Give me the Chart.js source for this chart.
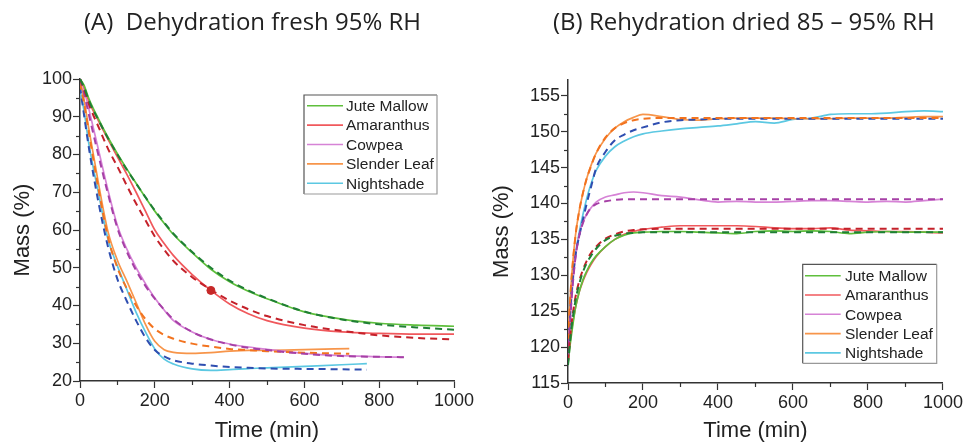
<!DOCTYPE html>
<html><head><meta charset="utf-8">
<script src="https://cdn.jsdelivr.net/npm/chart.js@4.4.0/dist/chart.umd.min.js"></script>
<style>
html,body{margin:0;padding:0;background:#fff;}
#wrap{position:relative;width:965px;height:444px;overflow:hidden;background:#fff;}
canvas{position:absolute;top:0;}
.ttl{position:absolute;top:4px;font-family:"Open Sans",sans-serif;font-size:24px;color:#222;white-space:pre;}
</style></head><body>
<div id="wrap">
<canvas id="cA" width="480" height="444" style="left:0"></canvas>
<canvas id="cB" width="485" height="444" style="left:480px"></canvas>
<div class="ttl" style="left:84px">(A)  Dehydration fresh 95% RH</div>
<div class="ttl" style="left:553px">(B) Rehydration dried 85 – 95% RH</div>
</div>
<script>
// ---------- categories / colours ----------
const species = ['Jute Mallow','Amaranthus','Cowpea','Slender Leaf','Nightshade'];
const colorsSolid = ['#5fbf3c','#f0585c','#d683d6','#f7954a','#5cc8e2'];
const colorsFit   = ['#1f7f35','#c4212a','#a640a6','#f2731f','#2f4eb0'];

// ---------- (A) dehydration: time (min) ----------
const timeA        = [0,10,25,50,75,100,125,150,175,200,225,250,300,350,400,450,500,600,700,800,900,1000];
const timeA_cowpea = [0,10,25,50,75,100,125,150,175,200,225,250,300,350,400,450,500,600,700,800,866];
const timeA_slender= [0,10,25,50,75,100,125,150,175,200,225,250,300,350,400,450,500,600,720];
const timeA_night  = [0,10,25,50,75,100,125,150,175,200,225,250,300,350,400,450,500,600,700,767];
// mass (%) measured / fitted
const juteA      = [100,98.5,94.5,89.3,84.5,80.2,76.2,72.4,68.6,65,61.8,58.8,54,49.6,46.3,43.8,41.8,38.3,36.4,35.3,34.8,34.5];
const juteAfit   = [100,98,94,89,84.3,80,76,72.3,68.7,65.2,62,59,54.2,50,46.6,44,41.9,38.4,36.3,35,34.2,33.6];
const amaA       = [100,98,93.8,88.8,84,79.4,74.8,70,65,60,56.4,53.2,48.2,44,40.4,37.8,36,34,33,32.6,32.4,32.4];
const amaAfit    = [100,97.5,93,87.2,81.5,76.8,71.8,67,62.6,58.3,54.8,51.8,47.5,44.2,41.3,39,37.2,34.8,33.3,32.1,31.4,31];
const cowA       = [100,97.5,91.5,81,70.5,61.2,55,50,45.8,42,38.8,36,33,31,29.8,29,28.4,27.3,26.7,26.4,26.3];
const cowAfit    = [100,96.5,90,79.5,69.5,60.5,54.3,49.3,45.2,41.8,38.9,36.3,33,31,29.7,28.8,28.2,27.2,26.6,26.4,26.3];
const slenderA   = [100,95,86,72,59.5,52,46.5,40.8,35,30.5,28.3,27.6,27.3,27.5,27.9,28.1,28.1,28.3,28.6];
const slenderAfit= [99,94,85,70.5,58,50,44.5,40,36.4,33.8,32.2,31.2,29.9,29.1,28.5,28.2,27.9,27.5,27.2];
const nightA     = [97,92,82,69.5,57.5,50.5,44.3,38.2,33,28.5,25.8,24.5,23.2,22.8,23,23.3,23.5,23.9,24.3,24.6];
const nightAfit  = [98,91,81,67,55.5,47,41.2,36,31.5,28.2,26.5,25.5,24.6,24.1,23.7,23.5,23.3,23.2,23.1,23];
const markerA    = [[350,44]];

// ---------- (B) rehydration ----------
const timeB = [0,5,10,20,30,40,50,60,75,100,125,150,175,200,250,300,350,400,450,500,550,600,650,700,750,800,850,900,950,1000];
const juteB      = [117.5,120,122,125.5,127.7,129.4,130.6,131.6,132.7,134,135,135.6,135.9,136,136.1,136.1,136,135.9,135.8,136.1,136.2,136.1,136.2,136.1,135.8,136,136.1,136,136,136];
const juteBfit   = [117.5,120.5,123,126.5,128.8,130.5,131.7,132.6,133.7,134.9,135.5,135.8,135.9,136,136,136,136,136,136,136,136,136,136,136,136,136,136,136,136,136];
const amaB       = [118,120.5,122.5,125.5,127.7,129.2,130.4,131.4,132.6,134,135,135.7,136.1,136.4,136.7,136.9,136.9,136.9,136.9,136.8,136.6,136.5,136.5,136.6,136.3,136.2,136.1,136.1,136,135.9];
const amaBfit    = [118,121,123.5,127,129.2,130.8,132,133,134,135.1,135.7,136.1,136.3,136.4,136.5,136.5,136.5,136.5,136.5,136.5,136.5,136.5,136.5,136.5,136.5,136.5,136.5,136.5,136.5,136.5];
const cowB       = [118.5,123,127,132.5,135.7,137.4,138.5,139.3,140.2,140.9,141.2,141.5,141.6,141.5,141.1,140.9,140.5,140.2,140.3,140.2,140.2,140.3,140.4,140.4,140.3,140.2,140.3,140.2,140.4,140.6];
const cowBfit    = [118.5,123,127,132.5,135.5,137.3,138.5,139.3,139.9,140.3,140.5,140.6,140.6,140.6,140.6,140.6,140.6,140.6,140.6,140.6,140.6,140.6,140.6,140.6,140.6,140.6,140.6,140.6,140.6,140.6];
const slenderB   = [121,126,130,135.6,139,141.5,143.5,145.1,147,149.1,150.5,151.4,152,152.4,152.1,151.7,151.6,151.8,151.9,151.9,151.9,151.8,151.8,151.8,151.9,151.9,151.9,152,152.1,152.1];
const slenderBfit= [121,126,130,135.5,139,141.5,143.5,145,147,149.2,150.5,151.2,151.6,151.8,151.9,151.9,151.9,151.9,151.9,151.9,151.9,151.9,151.9,151.9,151.9,151.9,151.9,151.9,151.9,151.9];
const nightB     = [119,124,128.5,133,136,138.5,140.7,142.5,144.6,146.6,147.9,148.7,149.3,149.7,150.1,150.4,150.6,150.8,151.1,151.4,151.2,151.7,151.9,152.4,152.5,152.5,152.6,152.8,152.9,152.8];
const nightBfit  = [119,124,128,132.8,135.5,137.8,140,142,144.9,147.2,148.8,149.6,150.2,150.6,151.3,151.6,151.7,151.8,151.8,151.8,151.8,151.8,151.8,151.8,151.8,151.8,151.8,151.8,151.8,151.8];

// ---------- axis ticks ----------
const xTicksMajor = 200, xStep = 100;
const yA = {min:20, max:100, step:5, major:10};
const yB = {min:115, max:157.2, step:2.5, major:5};

// ---------- helpers ----------
const pts = (t, v) => t.map((x, i) => ({x, y: v[i]}));
function buildSets(groups) {
  const sets = [];
  groups.forEach((g, i) => {
    sets.push({label: species[i], data: pts(g[0], g[1]), borderColor: colorsSolid[i], borderWidth: 1.7,
      pointRadius: 0, cubicInterpolationMode: 'monotone', fill: false, inLegend: true, order: 2});
  });
  groups.forEach((g, i) => {
    sets.push({label: species[i] + ' fit', data: pts(g[0], g[2]), borderColor: colorsFit[i], borderWidth: 2,
      borderDash: [7, 5], pointRadius: 0, cubicInterpolationMode: 'monotone', fill: false, order: 1});
  });
  return sets;
}

const minorTicks = {
  id: 'minorTicks',
  afterDraw(chart) {
    const ctx = chart.ctx;
    ctx.save();
    ctx.strokeStyle = '#333'; ctx.lineWidth = 1.2;
    const xs = chart.scales.x, ys = chart.scales.y;
    xs.ticks.forEach((t, i) => {
      if (t.label !== '') return;
      const p = Math.round(xs.getPixelForTick(i)) + 0.5;
      ctx.beginPath(); ctx.moveTo(p, xs.top); ctx.lineTo(p, xs.top + 4); ctx.stroke();
    });
    ys.ticks.forEach((t, i) => {
      if (t.label !== '') return;
      const p = Math.round(ys.getPixelForTick(i)) + 0.5;
      ctx.beginPath(); ctx.moveTo(ys.right, p); ctx.lineTo(ys.right - 4, p); ctx.stroke();
    });
    ctx.restore();
  }
};

const boxLegend = {
  id: 'boxLegend',
  afterDatasetsDraw(chart, args, o) {
    const ctx = chart.ctx;
    const items = chart.data.datasets.filter(d => d.inLegend);
    ctx.save();
    ctx.fillStyle = '#fff';
    ctx.fillRect(o.x, o.y, o.w, o.h);
    ctx.lineWidth = 1.2;
    ctx.strokeStyle = '#555';
    ctx.beginPath(); ctx.moveTo(o.x, o.y + o.h); ctx.lineTo(o.x, o.y); ctx.lineTo(o.x + o.w, o.y); ctx.stroke();
    ctx.strokeStyle = '#999';
    ctx.beginPath(); ctx.moveTo(o.x + o.w, o.y); ctx.lineTo(o.x + o.w, o.y + o.h); ctx.lineTo(o.x, o.y + o.h); ctx.stroke();
    ctx.font = o.font; ctx.textBaseline = 'middle'; ctx.textAlign = 'left';
    items.forEach((d, i) => {
      const yy = o.y + o.first + i * o.row;
      ctx.strokeStyle = d.borderColor; ctx.lineWidth = 1.6;
      ctx.beginPath(); ctx.moveTo(o.x + o.s0, yy); ctx.lineTo(o.x + o.s1, yy); ctx.stroke();
      ctx.fillStyle = '#222';
      ctx.fillText(d.label, o.x + o.tx, yy + 1);
    });
    ctx.restore();
  }
};

function makeOptions(yCfg, pad, yWidth, xHeight, yTitlePad, legend) {
  const tickFont = {family: '"Liberation Sans", Arial, sans-serif', size: 18};
  const titleFont = {family: '"Liberation Sans", Arial, sans-serif', size: 22};
  return {
    responsive: false, animation: false, events: [],
    layout: {padding: pad},
    plugins: {legend: {display: false}, tooltip: {enabled: false}, boxLegend: legend},
    scales: {
      x: {type: 'linear', min: 0, max: 1000,
        afterFit: s => { s.height = xHeight; },
        ticks: {stepSize: xStep, autoSkip: false, maxRotation: 0, padding: 2, color: '#222', font: tickFont,
          includeBounds: false,
          callback: v => (v % xTicksMajor === 0 ? String(v) : '')},
        grid: {drawOnChartArea: false, drawTicks: true, tickLength: 7, tickWidth: 1.2,
          tickColor: c => (c.tick && c.tick.value % xTicksMajor === 0) ? '#333' : 'rgba(0,0,0,0)'},
        border: {display: true, color: '#333', width: 1.5},
        title: {display: true, text: 'Time (min)', color: '#222', font: titleFont, padding: {top: 0, bottom: 0}}
      },
      y: {type: 'linear', min: yCfg.min, max: yCfg.max,
        afterFit: s => { s.width = yWidth; },
        ticks: {stepSize: yCfg.step, autoSkip: false, padding: 1, color: '#222', font: tickFont, includeBounds: false,
          callback: v => (Math.abs(v % yCfg.major) < 1e-6 ? String(v) : '')},
        grid: {drawOnChartArea: false, drawTicks: true, tickLength: 7, tickWidth: 1.2,
          tickColor: c => (c.tick && Math.abs(c.tick.value % yCfg.major) < 1e-6) ? '#333' : 'rgba(0,0,0,0)'},
        border: {display: true, color: '#333', width: 1.5},
        title: {display: true, text: 'Mass (%)', color: '#222', font: titleFont, padding: {top: yTitlePad, bottom: 0}}
      }
    }
  };
}

// ---------- chart A ----------
const setsA = buildSets([
  [timeA, juteA, juteAfit],
  [timeA, amaA, amaAfit],
  [timeA_cowpea, cowA, cowAfit],
  [timeA_slender, slenderA, slenderAfit],
  [timeA_night, nightA, nightAfit]
]);
setsA.push({label: 'marker', data: markerA.map(p => ({x: p[0], y: p[1]})), showLine: false,
  pointRadius: 4, pointBackgroundColor: '#c62828', pointBorderColor: '#c62828', borderColor: '#c62828', order: 0});

new Chart(document.getElementById('cA'), {
  type: 'line',
  data: {datasets: setsA},
  options: makeOptions(yA, {top: 79, right: 26, bottom: 0, left: 0}, 80, 63, 10,
    {x: 304, y: 95, w: 133, h: 99, first: 10.7, row: 19.4, s0: 3, s1: 39, tx: 42,
     font: '15.5px "Liberation Sans", Arial, sans-serif'}),
  plugins: [minorTicks, boxLegend]
});

// ---------- chart B ----------
const setsB = buildSets([
  [timeB, juteB, juteBfit],
  [timeB, amaB, amaBfit],
  [timeB, cowB, cowBfit],
  [timeB, slenderB, slenderBfit],
  [timeB, nightB, nightBfit]
]);
new Chart(document.getElementById('cB'), {
  type: 'line',
  data: {datasets: setsB},
  options: makeOptions(yB, {top: 80, right: 21, bottom: 0, left: 0}, 88, 61, 8.5,
    {x: 322.7, y: 264.3, w: 134, h: 99, first: 11.4, row: 19.3, s0: 2.3, s1: 38, tx: 42.3,
     font: '15.5px "Liberation Sans", Arial, sans-serif'}),
  plugins: [minorTicks, boxLegend]
});
</script>
</body></html>
